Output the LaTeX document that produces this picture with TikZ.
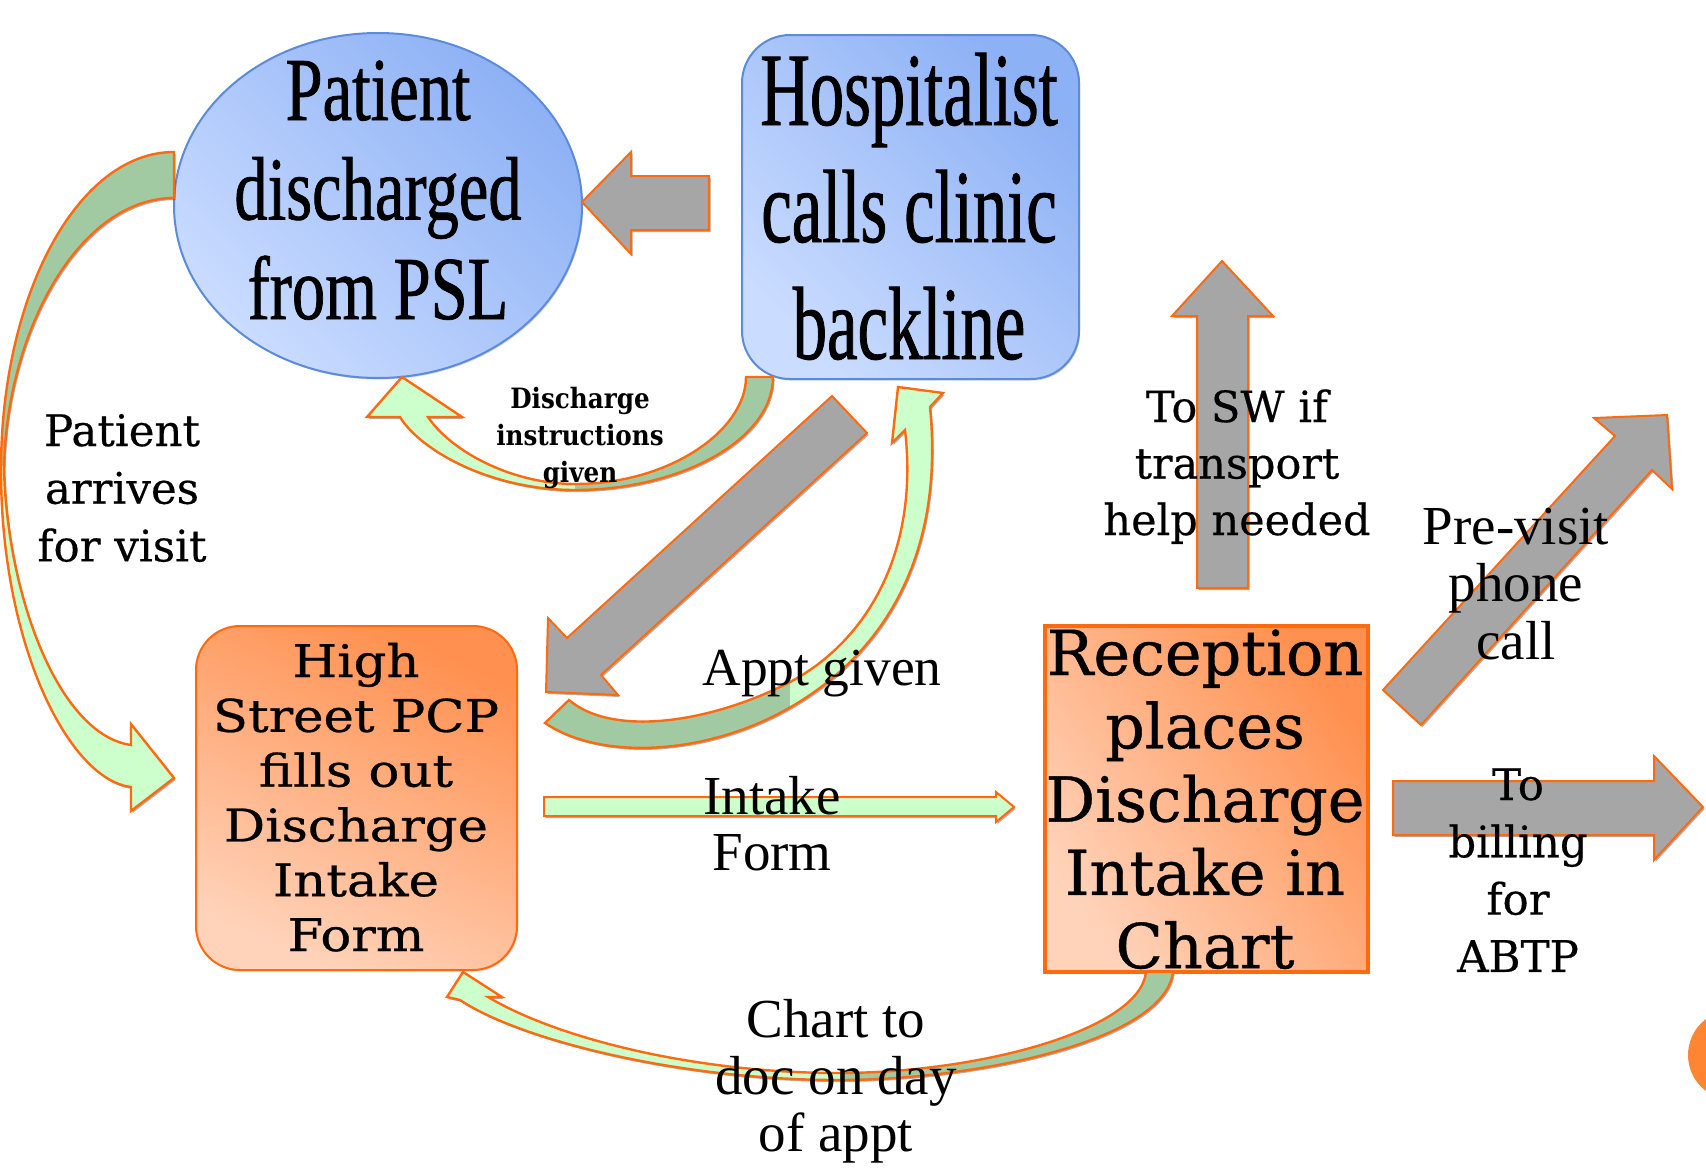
\documentclass[tikz,border=0pt]{standalone}
\usepackage{fontspec}
\setmainfont{Liberation Serif}
\newfontfamily\ovalface[FakeStretch=0.74,FakeBold=0.8]{Liberation Serif}
\newfontfamily\callface[FakeStretch=0.66,FakeBold=0.8]{Liberation Serif}
\newfontfamily\formface[FakeStretch=1.14,FakeBold=0.6]{DejaVu Serif}
\newfontfamily\chartface[FakeBold=0.6]{DejaVu Serif}
\newfontfamily\labelface[FakeBold=0.4]{DejaVu Serif}
\newfontfamily\noteface[FakeStretch=0.88]{DejaVu Serif}
\usetikzlibrary{shapes.geometric,shadows}

\definecolor{edgeOrange}{HTML}{FF6A0E}
\definecolor{arrowGray}{HTML}{A6A6A6}
\definecolor{ribbonLight}{HTML}{CCFFCC}
\definecolor{ribbonDark}{HTML}{A2CAA2}
\definecolor{blueEdge}{HTML}{5B8BD9}
\definecolor{blueLight}{HTML}{CADCFF}
\definecolor{blueDeep}{HTML}{8DB1F5}
\definecolor{peach}{HTML}{FFD3BA}
\definecolor{tangerine}{HTML}{FF904F}
\definecolor{dotOrange}{HTML}{FF8533}

% stacked, centred lines whose baseline is the first line
\newcommand\linesof[1]{\begin{tabular}[t]{@{}c@{}}#1\end{tabular}}

\begin{document}
\begin{tikzpicture}[x=0.5pt,y=-0.5pt,
  flowshadow/.style={drop shadow={shadow xshift=0.8pt,shadow yshift=-1pt,opacity=0.45,fill=black!70}},
  grayarrow/.style={fill=arrowGray,draw=edgeOrange,line width=1pt,line join=miter,flowshadow},
  lightarrow/.style={fill=ribbonLight,draw=edgeOrange,line width=1pt,line join=miter,flowshadow},
  ribbon/.style={fill=ribbonLight,flowshadow,postaction={draw=edgeOrange,line width=1.2pt,line join=miter}},
  bluestep/.style={draw=blueEdge,line width=1pt,top color=blueDeep,bottom color=blueLight,shading angle=-45,inner sep=0pt,
    drop shadow={shadow xshift=0.6pt,shadow yshift=-0.8pt,opacity=0.3}},
  orangestep/.style={draw=edgeOrange,top color=tangerine,bottom color=peach,inner sep=0pt,
    drop shadow={shadow xshift=0.6pt,shadow yshift=-0.8pt,opacity=0.3}},
  txt/.style={anchor=base,inner sep=0pt}]

\useasboundingbox (0,0) rectangle (1706,1167);
\fill[white] (0,0) rectangle (1706,1167);

% ---- process steps ----
\node[bluestep,ellipse,minimum width=204pt,minimum height=172.5pt] (pat) at (378,205.5) {};
\node[bluestep,rectangle,rounded corners=24pt,minimum width=168.5pt,minimum height=172pt] (hosp) at (910.5,207) {};
\node[orangestep,rectangle,rounded corners=22pt,line width=1pt,shading angle=-25,minimum width=160.5pt,minimum height=172pt] (pcp) at (356.5,798) {};
\node[orangestep,rectangle,line width=1.8pt,shading angle=-55,minimum width=161.5pt,minimum height=173pt] (rec) at (1206.5,799) {};

% ---- corner marker ----
\begin{scope}
  \clip (0,0) rectangle (1706,1167);
  \fill[dotOrange] (1733,1055) circle[radius=22.5pt];
\end{scope}

% ---- straight block arrows ----
% backline call -> discharge
\path[grayarrow] (709,176) -- (631,176) -- (631,152) -- (582,202) -- (631,254) -- (631,230) -- (709,230) -- cycle;
% backline call -> PCP
\path[grayarrow] (832,396) -- (567,638) -- (548,618) -- (546,692) -- (618,695) -- (601,675) -- (867,433) -- cycle;
% to social work
\path[grayarrow] (1197,588) -- (1197,316) -- (1172,316) -- (1222,261) -- (1273,316) -- (1248,316) -- (1248,588) -- cycle;
% pre-visit phone call
\path[grayarrow] (1383,690) -- (1615,436) -- (1594,418) -- (1667,415) -- (1672,489) -- (1652,470) -- (1421,725) -- cycle;
% to billing
\path[grayarrow] (1393,781) -- (1654,781) -- (1654,756) -- (1703,807) -- (1654,860) -- (1654,835) -- (1393,835) -- cycle;
% intake form handed to reception
\path[lightarrow] (544,797) -- (996,797) -- (996,792) -- (1014,807) -- (996,822) -- (996,816) -- (544,816) -- cycle;

% ---- curved ribbon arrows ----
% patient arrives for visit
\path[ribbon,path picture={\fill[ribbonDark] (0,0) rectangle (1706,466);}]
  (174,152) .. controls (78,152) and (1,294) .. (1,470)
  .. controls (1,647) and (70,780) .. (131,787)
  -- (131,811) -- (174,778) -- (131,724) -- (131,745)
  .. controls (60,735) and (8,600) .. (4,470)
  .. controls (6,330) and (80,198) .. (174,198) -- cycle;
% discharge instructions given
\path[ribbon,path picture={\fill[ribbonDark] (575,0) rectangle (1706,1167);}]
  (773,377) .. controls (773,440) and (680,490) .. (575,490)
  .. controls (490,490) and (420,450) .. (400,417)
  -- (367,417) -- (402,377) -- (462,417) -- (428,417)
  .. controls (450,450) and (510,484) .. (575,484)
  .. controls (670,484) and (746,430) .. (746,377) -- cycle;
% appointment given
\path[ribbon,path picture={\fill[ribbonDark] (0,0) rectangle (790,1167);}]
  (545,723) .. controls (600,760) and (700,755) .. (780,713)
  .. controls (880,660) and (945,560) .. (930,407)
  -- (943,393) -- (898,387) -- (892,443) -- (905,430)
  .. controls (920,560) and (860,650) .. (780,687)
  .. controls (700,725) and (610,735) .. (569,700) -- cycle;
% chart to doctor
\path[ribbon,path picture={\fill[ribbonDark] (840,0) rectangle (1706,1167);}]
  (1173,972) .. controls (1165,1040) and (980,1080) .. (838,1080)
  .. controls (680,1080) and (520,1040) .. (460,1000)
  -- (447,997) -- (463,972) -- (502,997) -- (488,997)
  .. controls (560,1040) and (700,1073) .. (838,1073)
  .. controls (980,1073) and (1140,1030) .. (1146,972) -- cycle;

% ---- step texts ----
\node[txt,font=\ovalface\fontsize{45pt}{49.75pt}\selectfont] (patTxt) at (378,120) {\linesof{Patient\\discharged\\from PSL}};
\node[txt,font=\callface\fontsize{52pt}{58.5pt}\selectfont] (hospTxt) at (909,125) {\linesof{Hospitalist\\calls clinic\\backline}};
\node[txt,font=\formface\fontsize{22.5pt}{27.4pt}\selectfont] (pcpTxt) at (356,677) {\linesof{High\\Street PCP\\fills out\\Discharge\\Intake\\Form}};
\node[txt,font=\chartface\fontsize{31pt}{36.65pt}\selectfont] (recTxt) at (1205,675) {\linesof{Reception\\places\\Discharge\\Intake in\\Chart}};

% ---- connector labels ----
\node[txt,font=\labelface\fontsize{21.75pt}{28.85pt}\selectfont] (arrivesLbl) at (122,446) {\linesof{Patient\\arrives\\for visit}};
\node[txt,font=\noteface\bfseries\fontsize{14pt}{18.5pt}\selectfont] (instrLbl) at (580,408) {\linesof{Discharge\\instructions\\given}};
\node[txt,font=\fontsize{26.75pt}{28.75pt}\selectfont] (apptLbl) at (822,685) {Appt given};
\node[txt,font=\fontsize{27.5pt}{28pt}\selectfont] (intakeLbl) at (772,814) {\linesof{Intake\\Form}};
\node[txt,font=\labelface\fontsize{21.5pt}{28.25pt}\selectfont] (swLbl) at (1237,422) {\linesof{To SW if\\transport\\help needed}};
\node[txt,font=\fontsize{27.5pt}{28.75pt}\selectfont] (previsitLbl) at (1516,544) {\linesof{Pre-visit\\phone\\call}};
\node[txt,font=\labelface\fontsize{21.75pt}{28.65pt}\selectfont] (billingLbl) at (1518,800) {\linesof{To\\billing\\for\\ABTP}};
\node[txt,font=\fontsize{27.5pt}{28.5pt}\selectfont] (chartLbl) at (836,1037) {\linesof{Chart to\\doc on day\\of appt}};
\end{tikzpicture}
\end{document}
